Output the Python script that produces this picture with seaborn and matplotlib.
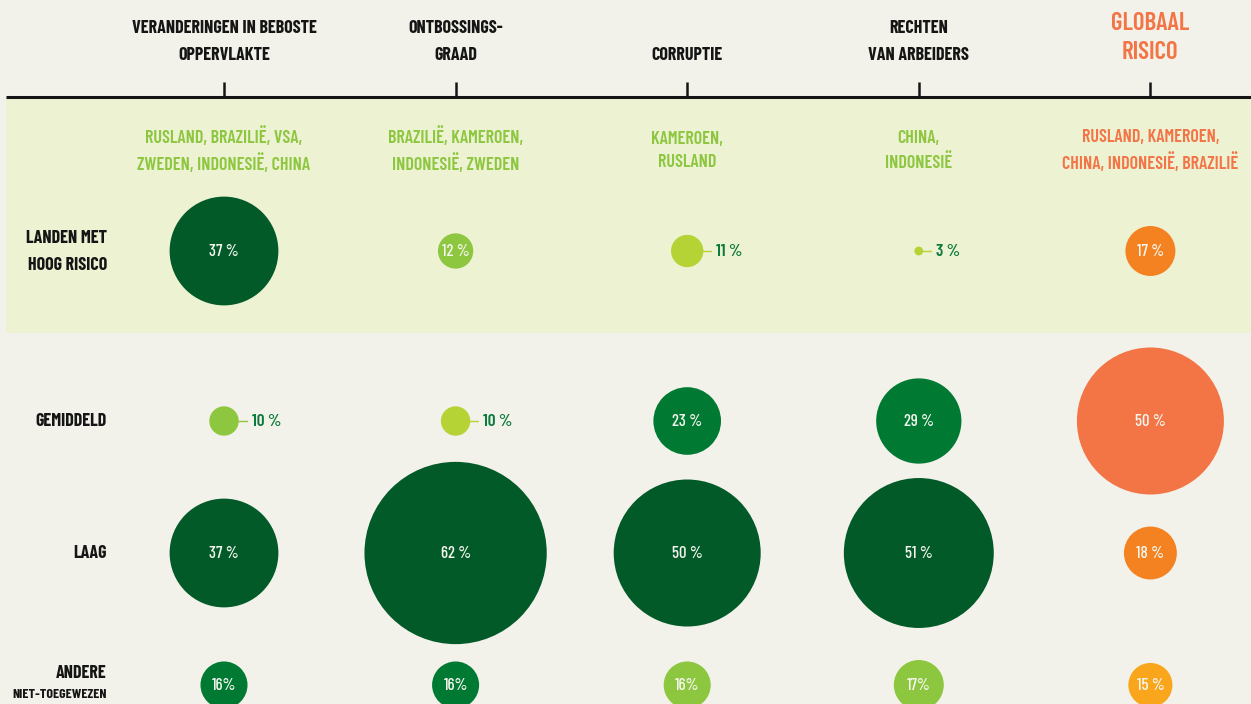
import matplotlib
matplotlib.use("Agg")
import matplotlib.pyplot as plt
import numpy as np
import pandas as pd
import seaborn as sns
from matplotlib import font_manager

# ---- data ----
columns = [
    "VERANDERINGEN IN BEBOSTE\nOPPERVLAKTE",
    "ONTBOSSINGS-\nGRAAD",
    "CORRUPTIE",
    "RECHTEN\nVAN ARBEIDERS",
    "GLOBAAL\nRISICO",
]
rows = ["LANDEN MET\nHOOG RISICO", "GEMIDDELD", "LAAG", "ANDERE"]
countries = [
    "RUSLAND, BRAZILIË, VSA,\nZWEDEN, INDONESIË, CHINA",
    "BRAZILIË, KAMEROEN,\nINDONESIË, ZWEDEN",
    "KAMEROEN,\nRUSLAND",
    "CHINA,\nINDONESIË",
    "RUSLAND, KAMEROEN,\nCHINA, INDONESIË, BRAZILIË",
]
high_risk = [37, 12, 11, 3, 17]
average = [10, 10, 23, 29, 50]
low = [37, 62, 50, 51, 18]
other = [16, 16, 16, 17, 15]
high_colour = ["dark", "light", "lime", "lime", "orange"]
average_colour = ["light", "lime", "mid", "mid", "coral"]
low_colour = ["dark", "dark", "dark", "dark", "orange"]
other_colour = ["mid", "mid", "light", "light", "amber"]

palette = {
    "dark": "#025A29",
    "mid": "#007A33",
    "light": "#8DC63F",
    "lime": "#B5D335",
    "coral": "#F37445",
    "orange": "#F58220",
    "amber": "#F9A61C",
}

# ---- layout ----
W, H = 1251, 704
COL_X = 224 + 231.6 * np.arange(len(columns))
ROW_Y = [251, 421, 553, 685]
PX_PER_PCT = 1.47  # bubble radius in pixels per percent
BG = "#F3F2EA"
BAND = "#EDF2D3"
INK = "#151515"

avail = {f.name for f in font_manager.fontManager.ttflist}
FONT = "DejaVu Sans"
for cand in ["Barlow Condensed", "Roboto Condensed", "Oswald", "Fjalla One",
             "Antonio", "Pathway Gothic One", "Liberation Sans Narrow"]:
    if cand in avail:
        FONT = cand
        break
sns.set_style("white")
plt.rcParams["font.family"] = [FONT, "DejaVu Sans"]

records = []
for r, (vals, cols) in enumerate(
    [(high_risk, high_colour), (average, average_colour), (low, low_colour), (other, other_colour)]
):
    for c, (v, col) in enumerate(zip(vals, cols)):
        records.append({"row": r, "col": c, "value": v, "colour": col})
df = pd.DataFrame(records)
df["x"] = COL_X[df["col"]]
df["y"] = [ROW_Y[r] for r in df["row"]]
df["area"] = df["value"] ** 2

fig = plt.figure(figsize=(W / 100, H / 100), dpi=100, facecolor=BG)
ax = fig.add_axes([0, 0, 1, 1])
ax.set_facecolor(BG)

# highlighted high-risk band and the top rule
ax.axhspan(98, 333, xmin=6 / W, xmax=1, color=BAND, lw=0, zorder=0)
ax.plot([6, W], [97, 97], color=INK, lw=2.2, zorder=2, solid_capstyle="butt")
ax.vlines(COL_X, 82, 97, color=INK, lw=1.8, zorder=2)

s_max = (2 * PX_PER_PCT * df["value"].max() * 0.72) ** 2
sns.scatterplot(
    data=df, x="x", y="y", hue="colour", palette=palette,
    size="area", sizes=(0, s_max), size_norm=(0, df["area"].max()),
    linewidth=0, alpha=1, legend=False, ax=ax, zorder=3,
)

# value labels
for _, d in df.iterrows():
    rad = PX_PER_PCT * d["value"]
    sep = "" if (d["row"] == 3 and d["col"] < 4) else " "
    txt = f"{d['value']}{sep}%"
    if d["value"] <= 11:
        ax.plot([d["x"] + rad * 0.7, d["x"] + rad + 8], [d["y"], d["y"]],
                color=palette[d["colour"]], lw=1, zorder=4)
        ax.text(d["x"] + rad + 13, d["y"] + 1, txt, ha="left", va="center",
                fontsize=12.5, fontweight="semibold", color="#0B7A3B", zorder=5)
    else:
        ax.text(d["x"], d["y"] + 1, txt, ha="center", va="center",
                fontsize=12, fontweight="medium", color="#F6F6EE", zorder=5)

# column headers
for i, name in enumerate(columns):
    if i == len(columns) - 1:
        ax.text(COL_X[i], 38, name, ha="center", va="center", fontsize=18,
                fontweight="semibold", color="#F37445", linespacing=1.38)
    else:
        ax.text(COL_X[i], 42 if "\n" in name else 55, name, ha="center", va="center",
                fontsize=13, fontweight="bold", color=INK, linespacing=1.7)
    ax.text(COL_X[i], 151, countries[i], ha="center", va="center", fontsize=13,
            fontweight="semibold", color="#F37445" if i == len(columns) - 1 else "#8DC63F",
            linespacing=1.45)

# row labels
for j, name in enumerate(rows):
    ypos = ROW_Y[j] + 1 if j != 3 else 673
    ax.text(107, ypos, name, ha="right", va="center", fontsize=13,
            fontweight="bold", color=INK, linespacing=1.75)
ax.text(107, 695, "NIET-TOEGEWEZEN", ha="right", va="center", fontsize=10,
        fontweight="bold", color=INK)

ax.set_xlim(0, W)
ax.set_ylim(H, 0)
ax.axis("off")
fig.savefig("out.png", dpi=100, facecolor=BG)
